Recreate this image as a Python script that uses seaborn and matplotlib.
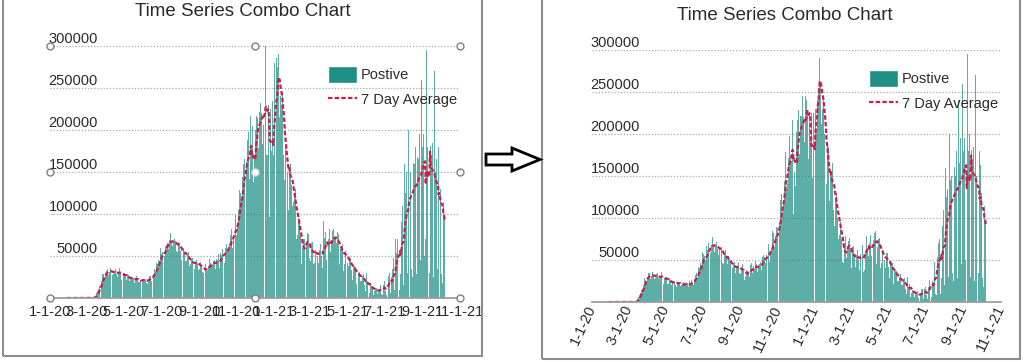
import numpy as np
import pandas as pd
import matplotlib
matplotlib.use("Agg")
import matplotlib.pyplot as plt
import matplotlib.dates as mdates
from matplotlib.patches import Patch, Polygon, Rectangle
from matplotlib.lines import Line2D
import seaborn as sns

# daily positive tests, in thousands; one row per week, first day Wed 1-22-20
positive_k = [
    0, 0, 0, 0, 0, 0, 0,
    0, 0, 0, 0, 0, 0, 0,
    0, 0, 0, 0, 0, 0, 0,
    0, 0, 0, 0, 0, 0, 0,
    0, 0, 0, 0, 0, 0, 0,
    0, 0, 0, 0, 0.01, 0.02, 0.02,
    0.03, 0.05, 0.07, 0.1, 0.1, 0.2, 0.3,
    0.4, 0.5, 0.8, 1.0, 2.0, 3.5, 5.8,
    6, 8, 11, 13, 14, 16, 16,
    20, 24, 28, 29, 26, 24, 31,
    30, 32, 35, 34, 28, 27, 31,
    33, 36, 34, 32, 27, 26, 29,
    31, 33, 34, 32, 28, 25, 27,
    30, 34, 36, 31, 26, 22, 24,
    28, 30, 32, 30, 26, 22, 21,
    26, 28, 27, 26, 20, 18, 23,
    21, 27, 25, 24, 20, 18, 22.5,
    23, 26, 24, 22, 21, 19, 19,
    20, 21, 24, 24, 19, 20, 22.5,
    20, 22, 23, 22, 18, 17, 25,
    22, 23, 26, 26, 22, 20, 29,
    27, 29, 32, 34, 31, 29, 42,
    38, 40, 45, 47, 44, 41, 60,
    52, 57, 55, 48, 49, 50, 67,
    62, 63, 70, 66, 60, 58, 69,
    68, 77, 72, 65, 62, 60, 65,
    70, 72, 68, 63, 56, 55, 64,
    67, 70, 66, 56, 47, 45, 55,
    56, 60, 62, 53, 44, 45, 44,
    55, 51, 55, 47, 38, 35, 41,
    45, 47, 48, 43, 35, 34, 42,
    43, 45, 48, 42, 34, 33, 35,
    40, 43, 45, 37, 31, 26, 30,
    34, 38, 41, 37, 33, 32, 30,
    38, 44, 47, 42, 35, 38, 43,
    39, 44, 49, 45, 35, 36, 46,
    42, 45, 52, 48, 36, 38, 54,
    51, 56, 58, 54, 47, 42, 56,
    59, 64, 69, 58, 48, 57, 65,
    63, 75, 84, 82, 60, 66, 74,
    79, 89, 100, 88, 75, 84, 94,
    105, 122, 128, 125, 107, 118, 121,
    144, 160, 178, 166, 135, 140, 162,
    172, 188, 198, 175, 142, 168, 217,
    180, 105, 205, 155, 138, 170, 202,
    200, 217, 228, 214, 176, 179, 221,
    222, 232, 245, 220, 183, 190, 206,
    245, 240, 300, 228, 170, 170, 222,
    230, 195, 97, 225, 148, 175, 225,
    234, 170, 230, 280, 205, 240, 286,
    255, 275, 290, 262, 215, 212, 241,
    230, 240, 245, 200, 170, 140, 140,
    180, 190, 185, 150, 120, 105, 155,
    150, 160, 165, 135, 110, 90, 114,
    120, 125, 130, 100, 70, 75, 80,
    95, 95, 90, 75, 48, 40, 47,
    60, 70, 78, 70, 52, 55, 63,
    73, 77, 76, 62, 48, 40, 44,
    66, 67, 67, 56, 41, 42, 53,
    57, 62, 65, 50, 38, 42, 57,
    58, 64, 68, 50, 36, 38, 92,
    60, 72, 78, 62, 45, 55, 76,
    70, 80, 82, 55, 40, 68, 74,
    80, 82, 85, 70, 45, 70, 65,
    75, 78, 76, 60, 40, 47, 58,
    62, 65, 64, 50, 32, 40, 58,
    56, 58, 56, 42, 28, 38, 44,
    45, 48, 47, 33, 22, 32, 39,
    37, 38, 37, 25, 17, 25, 31,
    30, 33, 31, 20, 14, 20, 27,
    26, 28, 24, 15, 9, 8, 30,
    18, 20, 22, 10, 6, 11, 18,
    14, 15, 13, 6, 4, 8, 10,
    12, 13, 12, 5, 3, 7, 11,
    13, 15, 16, 5, 3, 9, 16,
    18, 20, 8, 3, 4, 18, 27,
    26, 28, 30, 6, 4, 25, 21,
    35, 48, 55, 10, 8, 70, 54,
    60, 70, 75, 15, 10, 105, 29,
    90, 100, 110, 20, 15, 160, 100,
    125, 135, 150, 30, 20, 200, 145,
    140, 150, 165, 35, 25, 220, 161,
    150, 160, 180, 40, 28, 240, 168,
    165, 175, 195, 45, 30, 260, 194,
    180, 195, 225, 50, 35, 70, 295,
    190, 180, 200, 45, 30, 280, 181,
    170, 175, 185, 40, 25, 270, 150,
    150, 160, 165, 35, 22, 180, 163,
    120, 130, 140, 28, 18, 150, 114,
    105, 95,
]
start_date = "2020-01-22"
tick_labels = ["1-1-20", "3-1-20", "5-1-20", "7-1-20", "9-1-20", "11-1-20",
               "1-1-21", "3-1-21", "5-1-21", "7-1-21", "9-1-21", "11-1-21"]
y_ticks = [50000, 100000, 150000, 200000, 250000, 300000]
title = "Time Series Combo Chart"
bar_label = "Postive"
line_label = "7 Day Average"

BAR = "#1f8f86"
LINE = "#c8204a"
TXT = "#2a2a2a"
GRID = "#a8a8a8"
DASH = (0, (2, 1))

positive = np.array(positive_k) * 1000
dates = pd.date_range(start_date, periods=len(positive), freq="D")
df = pd.DataFrame({"date": mdates.date2num(dates), "positive": positive})
df["avg7"] = df["positive"].rolling(7).mean()
tick_pos = mdates.date2num(pd.to_datetime(tick_labels, format="%m-%d-%y"))

sns.set_theme(style="white")
plt.rcParams["font.family"] = ["Liberation Sans", "DejaVu Sans"]

W, H = 1024, 362
fig = plt.figure(figsize=(W / 100, H / 100), dpi=100)


def px_axes(x0, x1, ytop, ybot):
    return fig.add_axes([x0 / W, 1 - ybot / H, (x1 - x0) / W, (ybot - ytop) / H])


def draw_chart(ax, rotate):
    sns.barplot(data=df, x="date", y="positive", native_scale=True, orient="x",
                color=BAR, errorbar=None, width=0.95, linewidth=0, saturation=1,
                alpha=0.72, ax=ax)
    sns.lineplot(data=df, x="date", y="avg7", color=LINE, linestyle=DASH,
                 linewidth=1.6, ax=ax)
    ax.set_xlim(tick_pos[0], tick_pos[-1])
    ax.set_ylim(0, 300000)
    ax.set_xlabel("")
    ax.set_ylabel("")
    for s in ["top", "left", "right"]:
        ax.spines[s].set_visible(False)
    ax.spines["bottom"].set_color("#9a9a9a")
    ax.set_yticks(y_ticks, labels=[str(v) for v in y_ticks], va="bottom")
    ax.tick_params(axis="y", length=0, pad=-34.5, labelsize=10.5, labelcolor=TXT)
    ax.grid(axis="y", color=GRID, linestyle=(0, (1, 1.5)), linewidth=0.9)
    ax.set_axisbelow(True)
    if rotate:
        ax.set_xticks(tick_pos, labels=tick_labels, rotation=65, ha="right",
                      va="center", rotation_mode="anchor")
        ax.tick_params(axis="x", pad=3)
    else:
        ax.set_xticks(tick_pos, labels=tick_labels)
        ax.tick_params(axis="x", pad=5)
    ax.tick_params(axis="x", direction="in", length=3.5, color="#9a9a9a",
                   labelsize=10.5, labelcolor=TXT)
    handles = [Patch(facecolor=BAR, label=bar_label),
               Line2D([], [], color=LINE, linestyle=DASH, linewidth=1.6, label=line_label)]
    ax.legend(handles=handles, loc="upper left", bbox_to_anchor=(0.678, 0.92),
              frameon=False, fontsize=10.5, handlelength=2.0, handleheight=1.35,
              handletextpad=0.25, labelspacing=0.6, borderpad=0, borderaxespad=0,
              labelcolor=TXT)


# left: the chart while selected, right: the finished chart
ax1 = px_axes(50, 460, 46, 298)
draw_chart(ax1, rotate=False)
ax1.plot([0, 0.5, 1, 0, 1, 0, 0.5, 1], [1, 1, 1, 0.5, 0.5, 0, 0, 0], ls="none",
         marker="o", ms=5, mfc="white", mec="#808080", mew=1,
         transform=ax1.transAxes, clip_on=False, zorder=6)
ax1.plot([0.5], [0.5], ls="none", marker="o", ms=5, mfc="white", mec="#e0e0e0",
         transform=ax1.transAxes, clip_on=False, zorder=6)
fig.text(243 / W, 1 - 12 / H, title, ha="center", va="center", fontsize=13.5, color=TXT)

ax2 = px_axes(592, 1001, 50, 302)
draw_chart(ax2, rotate=True)
fig.text(785 / W, 1 - 15 / H, title, ha="center", va="center", fontsize=13.5, color=TXT)

# panel frames
for x0, x1, yb in [(3, 482, 356), (542, 1020, 359)]:
    fig.add_artist(Rectangle((x0 / W, 1 - yb / H), (x1 - x0) / W, yb / H + 0.05,
                             transform=fig.transFigure, fill=False,
                             edgecolor="#8c8c8c", linewidth=1.5))

# hollow arrow between the panels
arrow_px = [(486, 154), (512, 154), (512, 148), (540, 159.5), (512, 171), (512, 165), (486, 165)]
fig.add_artist(Polygon([(x / W, 1 - y / H) for x, y in arrow_px], closed=True,
                       transform=fig.transFigure, facecolor="white",
                       edgecolor="black", linewidth=2))

fig.savefig("out.png", dpi=100)
